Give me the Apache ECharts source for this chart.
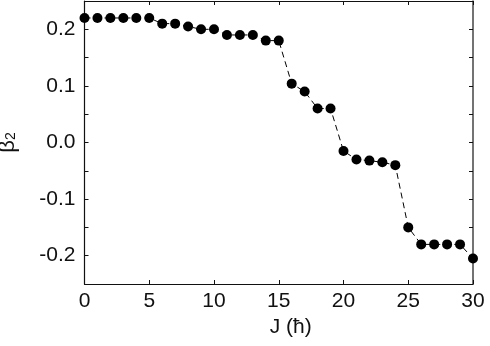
<!DOCTYPE html>
<html>
<head>
<meta charset="utf-8">
<script src="https://cdn.jsdelivr.net/npm/echarts@6/dist/echarts.min.js"></script>
<style>
  html, body { margin: 0; padding: 0; background: #fff; }
  #chart { width: 490px; height: 346px; }
</style>
</head>
<body>
<div id="chart"></div>
<script>
// spin J (hbar) and deformation beta2
const spins = [0, 1, 2, 3, 4, 5, 6, 7, 8, 9, 10, 11, 12, 13, 14, 15,
  16, 17, 18, 19, 20, 21, 22, 23, 24, 25, 26, 27, 28, 29, 30]
const beta2 = [0.22, 0.22, 0.22, 0.22, 0.22, 0.22, 0.21, 0.21, 0.205, 0.20, 0.20,
  0.19, 0.19, 0.19, 0.18, 0.18, 0.104, 0.09, 0.06, 0.06, -0.015, -0.03, -0.032,
  -0.035, -0.04, -0.15, -0.18, -0.18, -0.18, -0.18, -0.205]

const font = 'Liberation Sans'
const axisCol = '#111'

let myChart = echarts.init(document.getElementById('chart'))

const data = spins.map((j, i) => [j, beta2[i]])

function yLabel (v) {
  if (Math.abs(v) < 1e-9) return '0.0'
  if (Math.abs(Math.round(v * 100)) % 10 !== 0) return ''
  return v.toFixed(1)
}

myChart.setOption({
  animation: false,
  grid: { left: 84.5, right: 17, top: 1, bottom: 62, outerBoundsMode: 'none', containLabel: false },
  xAxis: [
    {
      type: 'value', min: 0, max: 30, interval: 5,
      name: 'J (ħ)', nameLocation: 'middle', nameGap: 32,
      nameTextStyle: { fontFamily: font, fontSize: 21, color: axisCol, padding: [0, 0, 0, 24] },
      axisLine: { onZero: false, lineStyle: { color: axisCol, width: 1.2 } },
      axisTick: { inside: true, length: 4, lineStyle: { color: axisCol } },
      axisLabel: { fontFamily: font, fontSize: 21, color: axisCol, margin: 7 },
      splitLine: { show: false }
    },
    {
      type: 'value', min: 0, max: 30, interval: 5, position: 'top',
      axisLine: { show: true, onZero: false, lineStyle: { color: axisCol, width: 1.2 } },
      axisTick: { show: true, inside: true, length: 4, lineStyle: { color: axisCol } },
      axisLabel: { show: false },
      splitLine: { show: false }
    }
  ],
  yAxis: [
    {
      type: 'value', min: -0.25, max: 0.25, interval: 0.05,
      name: '{b|β}{s|2}', nameLocation: 'middle', nameGap: 66, nameRotate: 90,
      nameTextStyle: {
        rich: {
          b: { fontFamily: font, fontSize: 22, color: axisCol },
          s: { fontFamily: font, fontSize: 14, color: axisCol, verticalAlign: 'bottom', padding: [8, 0, 0, 0] }
        }
      },
      axisLine: { onZero: false, lineStyle: { color: axisCol, width: 1.2 } },
      axisTick: { inside: true, length: 4, lineStyle: { color: axisCol } },
      axisLabel: { fontFamily: font, fontSize: 21, color: axisCol, margin: 9, formatter: yLabel },
      splitLine: { show: false }
    },
    {
      type: 'value', min: -0.25, max: 0.25, interval: 0.05, position: 'right',
      axisLine: { show: true, onZero: false, lineStyle: { color: '#444', width: 1.5 } },
      axisTick: { show: true, inside: true, length: 4, lineStyle: { color: axisCol } },
      axisLabel: { show: false },
      splitLine: { show: false }
    }
  ],
  series: [
    {
      type: 'line',
      data: data,
      symbol: 'circle',
      symbolSize: 10,
      itemStyle: { color: '#000' },
      lineStyle: { color: '#000', width: 1, type: [6, 4] }
    }
  ]
})
</script>
</body>
</html>
